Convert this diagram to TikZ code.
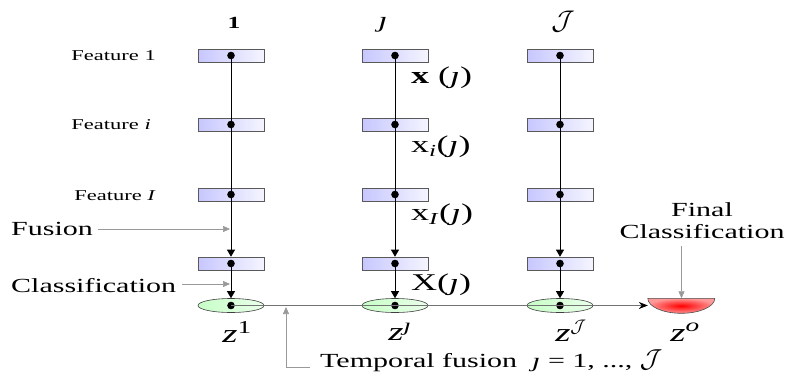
\RequirePackage{fix-cm}
\documentclass[tikz,border=0pt]{standalone}
\usepackage{amsmath,amssymb}
\usepackage{fontspec}
\setmainfont{Liberation Serif}[FakeStretch=1.5]
\usetikzlibrary{arrows.meta,shapes.geometric}

\begin{document}
\begin{tikzpicture}[x=1pt,y=-1pt]
\tikzset{
  featbox/.style={rectangle,draw=black!65,line width=0.6pt,left color=blue!22,right color=blue!4,
    minimum width=66pt,minimum height=13pt,inner sep=0pt,
    path picture={\fill[black] (path picture bounding box.center) circle (3.8pt);}},
  classell/.style={ellipse,draw=black!75,line width=0.6pt,left color=green!22,right color=green!8,
    minimum width=66pt,minimum height=14pt,inner sep=0pt,
    path picture={\fill[black] (path picture bounding box.center) circle (3.8pt);}},
  colline/.style={draw=black,line width=0.7pt},
  colarrow/.style={colline,-{Triangle[length=7pt,width=8pt]}},
  timeline/.style={draw=black!55,line width=0.8pt},
  notearrow/.style={draw=black!40,line width=0.7pt,-{Triangle[length=7pt,width=6pt]}},
  smalltext/.style={font=\fontsize{15}{17}\selectfont,inner sep=0pt},
  bigtext/.style={font=\fontsize{20}{22}\selectfont,inner sep=0pt},
  xtext/.style={font=\fontsize{24}{26}\selectfont,inner sep=0pt},
  ztext/.style={font=\fontsize{26}{28}\selectfont,inner sep=0pt}
}
\useasboundingbox (0,0) rectangle (789,383);
% column headers
\node[font=\fontsize{17}{19}\selectfont] (t_1) at (234,23) {\textbf{1}};
\node[font=\fontsize{22}{24}\selectfont] (t_j) at (383,25) {\textit{ȷ}};
\node[font=\fontsize{27}{29}\selectfont] (t_J) at (563,22) {$\mathcal{J}$};
% feature boxes
\node[featbox] (n_1f1) at (231,55.5) {};
\node[featbox] (n_1fi) at (231,124.5) {};
\node[featbox] (n_1fI) at (231,194.5) {};
\node[featbox] (n_1fu) at (231,263.5) {};
\node[classell] (n_1z) at (231,305.5) {};
\node[featbox] (n_jf1) at (395,55.5) {};
\node[featbox] (n_jfi) at (395,124.5) {};
\node[featbox] (n_jfI) at (395,194.5) {};
\node[featbox] (n_jfu) at (395,263.5) {};
\node[classell] (n_jz) at (395,305.5) {};
\node[featbox] (n_Jf1) at (560,55.5) {};
\node[featbox] (n_Jfi) at (560,124.5) {};
\node[featbox] (n_JfI) at (560,194.5) {};
\node[featbox] (n_Jfu) at (560,263.5) {};
\node[classell] (n_Jz) at (560,305.5) {};
\node[minimum width=67pt,minimum height=14pt,inner sep=0pt] (n_zo) at (681.5,305.5) {};
\shade[inner color=red,outer color=red!40,draw=black!70,line width=0.6pt]
  (n_zo.north west) arc[start angle=180,end angle=0,x radius=33.5,y radius=15] -- cycle;
% row labels
\node[smalltext,anchor=east] (l_f1) at (156,56) {Feature 1};
\node[smalltext,anchor=east] (l_fi) at (151,125) {Feature \textit{i}};
\node[smalltext,anchor=east] (l_fI) at (156,196) {Feature \textit{I}};
\node[bigtext,anchor=west] (l_fu) at (11,229) {Fusion};
\node[bigtext,anchor=west] (l_cl) at (11,286) {Classification};
\coordinate (c_fu) at (230,229);
\coordinate (c_cl) at (230,284);
% labels of column j
\node[xtext,anchor=west] (l_x) at (411,78) {\textbf{x} (\textit{ȷ})};
\node[xtext,anchor=west] (l_xi) at (411,147) {x\textsubscript{\textit{i}}(\textit{ȷ})};
\node[xtext,anchor=west] (l_xI) at (411,215) {x\textsubscript{\textit{I}}(\textit{ȷ})};
\node[xtext,anchor=west] (l_X) at (411,285) {X(\textit{ȷ})};
% outputs
\node[ztext] (z_1) at (237,332) {\textit{z}\textsuperscript{1}};
\node[ztext] (z_j) at (400,332) {\textit{z}\textsuperscript{\textit{ȷ}}};
\node[ztext] (z_J) at (571,331) {\textit{z}$^{\mathcal{J}}$};
\node[ztext] (z_o) at (685,332) {\textit{z}\textsuperscript{\textit{o}}};
\node[bigtext,align=center] (l_fc) at (702,221) {Final\\Classification};
\node[bigtext,anchor=west] (l_tf) at (320,361) {Temporal fusion\ \ \textit{ȷ} = 1, ..., {\fontsize{26}{28}\selectfont$\mathcal{J}$}};
\coordinate (c_tf) at (286,307);
% connectors
\draw[colline] (n_1f1.center) -- (n_1fI.center);
\draw[colarrow] (n_1fI.center) -- (n_1fu.north);
\draw[colarrow] (n_1fu.center) -- (n_1z.north);
\draw[colline] (n_jf1.center) -- (n_jfI.center);
\draw[colarrow] (n_jfI.center) -- (n_jfu.north);
\draw[colarrow] (n_jfu.center) -- (n_jz.north);
\draw[colline] (n_Jf1.center) -- (n_JfI.center);
\draw[colarrow] (n_JfI.center) -- (n_Jfu.north);
\draw[colarrow] (n_Jfu.center) -- (n_Jz.north);
\draw[timeline,-{Stealth[length=9pt,width=7pt,black]}] (n_1z.center) -- (n_zo.west);
\draw[notearrow] (l_fu.east) ++(5,0) -- (c_fu);
\draw[notearrow] (l_cl.east) ++(6,-2) -- (c_cl);
\draw[notearrow] (n_zo.north |- l_fc.south) ++(0,7) -- (n_zo.north);
\draw[notearrow] (l_tf.west) ++(-10,6) -| (c_tf);
\end{tikzpicture}
\end{document}
